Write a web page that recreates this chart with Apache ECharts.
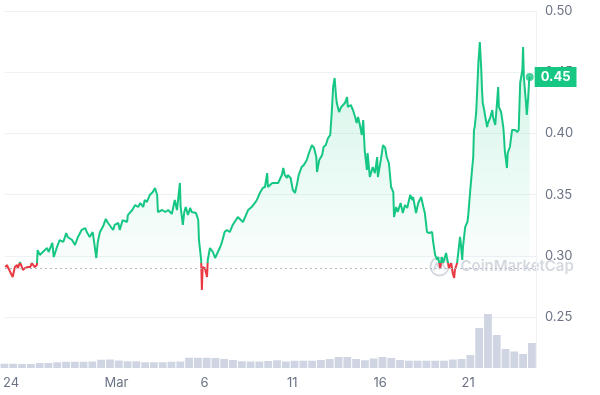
<!DOCTYPE html>
<html>
<head>
<meta charset="utf-8">
<script src="https://cdn.jsdelivr.net/npm/echarts@6/dist/echarts.min.js"></script>
<style>
html,body{margin:0;padding:0;background:#fff;}
#chart{width:600px;height:395px;}
</style>
</head>
<body>
<div id="chart"></div>
<script>
// Hours since 2024-02-24 00:00
const hours = [-7,-5,-3,-1,3,6,9,10,13,17,20,24,27,29,33,36,37,40,44,50,52,57,59,63,67,72,76,78,84,88,92,97,102,104,108,112,114,117,119,122,125,127,130,133,137,140,142,147,149,153,159,160,166,170,174,177,181,183,186,190,194,197,200,201,207,211,215,220,224,227,228,231,232,235,237,239,242,245,247,249,253,256,257,260,261,262,265,268,269,272,276,279,281,286,288,292,295,299,303,310,317,324,329,333,336,340,344,347,350,351,357,361,365,370,372,374,377,378,382,385,388,391,393,397,400,404,407,411,414,417,418,421,425,427,430,433,436,438,440,442,444,445,448,451,453,456,459,460,464,467,470,472,474,477,479,481,483,486,487,490,494,497,500,501,505,508,511,513,516,519,522,523,526,528,532,535,538,541,545,548,549,553,556,560,563,565,568,571,575,576,579,582,583,586,588,590,594,595,598,601,603,605,606,609,610,613,614,616,617,620,623,624,627,629,631,632,633,635,636,638,640,642,643,644,646,647,650,651,654,657,658,661,663,665,666,669,672,673,674,677,678,681,684,688,691,693,695,698,699,700,703,704,706,707,708];
const prices = [0.2908,0.2925,0.2900,0.2908,0.2827,0.2908,0.2925,0.2900,0.2949,0.2884,0.2900,0.2908,0.2908,0.2941,0.2908,0.2925,0.3047,0.3007,0.3031,0.3064,0.3031,0.3105,0.2990,0.3064,0.3129,0.3113,0.3186,0.3154,0.3129,0.3088,0.3154,0.3211,0.3227,0.3194,0.3154,0.3194,0.3113,0.2982,0.3113,0.3194,0.3227,0.3252,0.3301,0.3268,0.3235,0.3211,0.3252,0.3268,0.3211,0.3292,0.3276,0.3333,0.3374,0.3415,0.3399,0.3431,0.3399,0.3456,0.3440,0.3497,0.3521,0.3554,0.3497,0.3358,0.3374,0.3358,0.3374,0.3342,0.3456,0.3374,0.3358,0.3595,0.3399,0.3252,0.3358,0.3399,0.3333,0.3391,0.3358,0.3374,0.3350,0.3292,0.3129,0.2966,0.2721,0.2908,0.2900,0.2827,0.2966,0.3064,0.3031,0.2982,0.2982,0.3072,0.3105,0.3194,0.3211,0.3194,0.3252,0.3317,0.3276,0.3374,0.3399,0.3431,0.3456,0.3513,0.3554,0.3562,0.3676,0.3562,0.3595,0.3595,0.3595,0.3660,0.3717,0.3660,0.3636,0.3660,0.3636,0.3538,0.3513,0.3595,0.3660,0.3725,0.3742,0.3783,0.3840,0.3905,0.3881,0.3807,0.3685,0.3783,0.3824,0.3889,0.3905,0.3962,0.3987,0.4167,0.4379,0.4453,0.4297,0.4248,0.4175,0.4216,0.4232,0.4248,0.4297,0.4216,0.4232,0.4191,0.4134,0.4085,0.4134,0.4052,0.3987,0.4109,0.3864,0.3701,0.3840,0.3644,0.3725,0.3676,0.3807,0.3644,0.3783,0.3905,0.3881,0.3807,0.3758,0.3562,0.3521,0.3317,0.3399,0.3358,0.3431,0.3350,0.3415,0.3391,0.3497,0.3456,0.3480,0.3350,0.3431,0.3480,0.3399,0.3350,0.3194,0.3186,0.3194,0.3129,0.3007,0.2966,0.2990,0.2900,0.2990,0.2941,0.3023,0.2990,0.2900,0.2941,0.2859,0.2819,0.2884,0.2941,0.2949,0.3154,0.3105,0.2966,0.3072,0.3235,0.3276,0.3317,0.3538,0.3676,0.3807,0.4028,0.4052,0.4167,0.4297,0.4575,0.4747,0.4518,0.4355,0.4248,0.4191,0.4150,0.4052,0.4085,0.4126,0.4191,0.4134,0.4069,0.4216,0.4379,0.4216,0.4175,0.4052,0.3971,0.3864,0.3717,0.3840,0.3889,0.4028,0.4028,0.4011,0.4028,0.4412,0.4518,0.4706,0.4461,0.4248,0.4150,0.4297,0.4412,0.4461];
const openPrice = 0.2941;

// 12-hour volume bars (center hour), values in $M
const volumeHours = [-9,3,15,27,39,51,63,75,87,99,111,123,135,147,159,171,183,195,207,219,231,243,255,267,279,291,303,315,327,339,351,363,375,387,399,411,423,435,447,459,471,483,495,507,519,531,543,555,567,579,591,603,615,627,639,651,663,675,687,699,711];
const volumes = [4.3,4.3,4,4,5,5,5.7,6.3,6.3,6.3,6.5,8.3,8.5,7.5,6.7,6.7,5.7,5.7,5.7,6.3,6.5,10.3,10.3,10.3,10,9,8,6.7,6.5,6.5,7,7.7,6.5,7.3,7.3,7.3,8,9,11,11,9,7.7,9.5,11,10,8,7.3,7.3,7.3,7.3,7.3,8.5,9,13,40,54,33,19,16.5,14,25];

const tickHours = [0,144,264,384,504,624];
const tickLabels = ['24','Mar','6','11','16','21'];
const priceTicks = {min:0.25, max:0.50, interval:0.05};

const GREEN = '#16c784', RED = '#ea3943', GRAY = '#6b7385', GRID = '#eff2f5';
const X_MIN = -7.5, X_MAX = 716.6;

const priceData = hours.map((h,i)=>[h, prices[i]]);
const volData = volumeHours.map((h,i)=>[h, volumes[i]]);
const last = priceData[priceData.length-1];

const chart = echarts.init(document.getElementById('chart'), null, {renderer:'canvas'});
chart.setOption({
  animation:false,
  backgroundColor:'#fff',
  textStyle:{fontFamily:'Inter'},
  grid:[
    {left:5, right:64, top:11, bottom:78},
    {left:5, right:64, top:305, bottom:27}
  ],
  xAxis:[
    {gridIndex:0, type:'value', min:X_MIN, max:X_MAX, show:false},
    {gridIndex:1, type:'value', min:X_MIN, max:X_MAX,
     axisLine:{show:false}, axisTick:{show:false}, splitLine:{show:false},
     axisLabel:{customValues:tickHours, margin:9, color:GRAY, fontSize:13, fontFamily:'Inter',
       formatter:(v)=>{const i=tickHours.indexOf(v);return i>=0?tickLabels[i]:'';}}}
  ],
  yAxis:[
    {gridIndex:0, type:'value', position:'right', min:priceTicks.min, max:priceTicks.max, interval:priceTicks.interval,
     axisLine:{show:true, onZero:false, lineStyle:{color:GRID}}, axisTick:{show:false},
     splitLine:{lineStyle:{color:GRID, width:1}},
     axisLabel:{margin:9, color:GRAY, fontSize:13, fontFamily:'Inter', formatter:(v)=>v.toFixed(2)}},
    {gridIndex:1, type:'value', position:'right', min:0, max:63,
     axisLine:{show:true, onZero:false, lineStyle:{color:GRID}}, axisTick:{show:false},
     splitLine:{show:false}, axisLabel:{show:false}}
  ],
  visualMap:{
    show:false, type:'piecewise', seriesIndex:0, dimension:1,
    pieces:[{gte:0, lt:openPrice, color:RED},{gte:openPrice, lte:10, color:GREEN}]
  },
  series:[
    {
      type:'line', xAxisIndex:0, yAxisIndex:0, data:priceData,
      symbol:'none', lineStyle:{width:2},
      areaStyle:{origin:openPrice, color:new echarts.graphic.LinearGradient(0,0,0,1,[
        {offset:0, color:'rgba(22,199,132,0.28)'},
        {offset:1, color:'rgba(22,199,132,0.0)'}
      ])},
      markLine:{silent:true, symbol:'none', label:{show:false},
        lineStyle:{type:[2,3], color:'#b1b8c6', width:1},
        data:[{yAxis:openPrice}]},
      endLabel:{show:true, distance:5, formatter:(p)=>p.value[1].toFixed(2),
        backgroundColor:GREEN, color:'#fff', fontWeight:'bold', fontSize:13, fontFamily:'Inter',
        padding:[4,6,3,6]},
      z:3
    },
    {
      type:'scatter', xAxisIndex:0, yAxisIndex:0, data:[last],
      symbolSize:8, itemStyle:{color:GREEN}, z:4, silent:true
    },
    {
      type:'bar', xAxisIndex:1, yAxisIndex:1, data:volData,
      barWidth:7.8, itemStyle:{color:'#cfd5e2'}, silent:true
    }
  ],
  graphic:[
    {type:'group', left:428, top:255, silent:true, children:[
      {type:'circle', shape:{cx:9, cy:10, r:9}, style:{fill:'none', stroke:'rgba(160,168,184,0.45)', lineWidth:2}},
      {type:'polyline', shape:{points:[[3,14],[6,7],[9,12],[12,7],[15,13]]}, style:{fill:'none', stroke:'rgba(160,168,184,0.45)', lineWidth:1.8}},
      {type:'text', x:30, y:2, style:{text:'CoinMarketCap', fill:'rgba(160,168,184,0.45)', font:'600 15px Inter'}}
    ]}
  ]
});
</script>
</body>
</html>
